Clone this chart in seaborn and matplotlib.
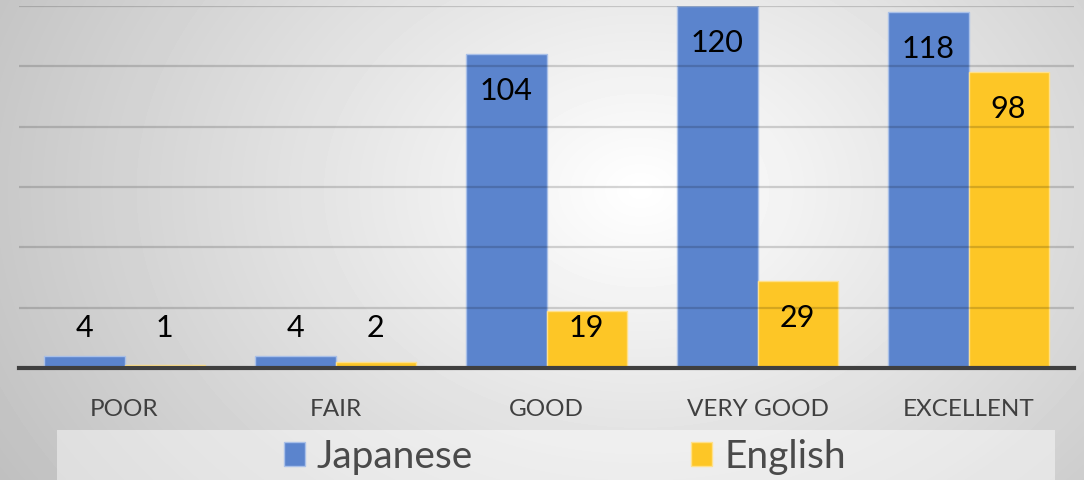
import numpy as np
import pandas as pd
import seaborn as sns
import matplotlib.pyplot as plt
from matplotlib.patches import Patch, Rectangle

categories = ["POOR", "FAIR", "GOOD", "VERY GOOD", "EXCELLENT"]
japanese = [4, 4, 104, 120, 118]
english = [1, 2, 19, 29, 98]
series_names = ["Japanese", "English"]
colors = ["#5B84CD", "#FDC626"]
edge_colors = ["#A9C0E8", "#FFE08A"]

df = pd.DataFrame({
    "category": categories * 2,
    "value": japanese + english,
    "series": [series_names[0]] * len(categories) + [series_names[1]] * len(categories),
})

sns.set_theme(style="white")
plt.rcParams["font.family"] = ["Lato", "DejaVu Sans"]

fig = plt.figure(figsize=(10.84, 4.8), dpi=100)

# radial grey-to-white backdrop
bg = fig.add_axes([0, 0, 1, 1], zorder=-10)
yy, xx = np.mgrid[0:480, 0:1084]
r = np.sqrt(((xx - 640) / 1.0) ** 2 + ((yy - 190) / 0.75) ** 2)
shade = np.clip(255 - r * 0.085, 190, 255) / 255.0
bg.imshow(shade, cmap="gray", vmin=0, vmax=1, aspect="auto", interpolation="bilinear")
bg.set_axis_off()

ax = fig.add_axes([19 / 1084, 1 - 368 / 480, 1055 / 1084, 362 / 480])
ax.patch.set_alpha(0)

sns.barplot(data=df, x="category", y="value", hue="series", order=categories,
            hue_order=series_names, palette=colors, width=0.76, gap=0,
            saturation=1, ax=ax, legend=False, zorder=2)

for container, ec in zip(ax.containers, edge_colors):
    for bar in container:
        bar.set_edgecolor(ec)
        bar.set_linewidth(1.0)

ax.set_ylim(0, 120)
ax.set_xlim(-0.5, len(categories) - 0.5)
ax.set_yticks(np.arange(20, 121, 20))
ax.yaxis.grid(True, color="black", alpha=0.16, linewidth=1.6, zorder=3)
ax.set_axisbelow(False)
ax.tick_params(axis="y", left=False, labelleft=False)
ax.tick_params(axis="x", bottom=False, labelsize=17.5, colors="#404040", pad=16)
ax.set_xlabel("")
ax.set_ylabel("")
for s in ["top", "right", "left"]:
    ax.spines[s].set_visible(False)
ax.spines["bottom"].set_color("#3f3f3f")
ax.spines["bottom"].set_linewidth(3)
ax.spines["bottom"].set_zorder(4)

# value labels near the top of each bar, kept above the baseline for short bars
for container in ax.containers:
    for bar in container:
        v = bar.get_height()
        y = max(v - 12.3, 13.3)
        ax.text(bar.get_x() + bar.get_width() / 2, y, f"{v:g}", ha="center", va="center",
                fontsize=22, color="black", zorder=5)

# legend band
fig.patches.append(Rectangle((57 / 1084, 0), 998 / 1084, 50 / 480,
                             transform=fig.transFigure, facecolor="white",
                             alpha=0.45, edgecolor="none", zorder=-5))
handles = [Patch(facecolor=c, edgecolor=e, linewidth=1) for c, e in zip(colors, edge_colors)]
leg = fig.legend(handles, series_names, loc="center", bbox_to_anchor=(0.521, 0.048),
                 ncol=2, frameon=False, fontsize=28, handlelength=0.55, handleheight=0.55,
                 handletextpad=0.3, columnspacing=5.6, borderaxespad=0)
for t in leg.get_texts():
    t.set_color("#4a4a4a")
    t.set_fontweight("normal")

fig.savefig("out.png", dpi=100)
